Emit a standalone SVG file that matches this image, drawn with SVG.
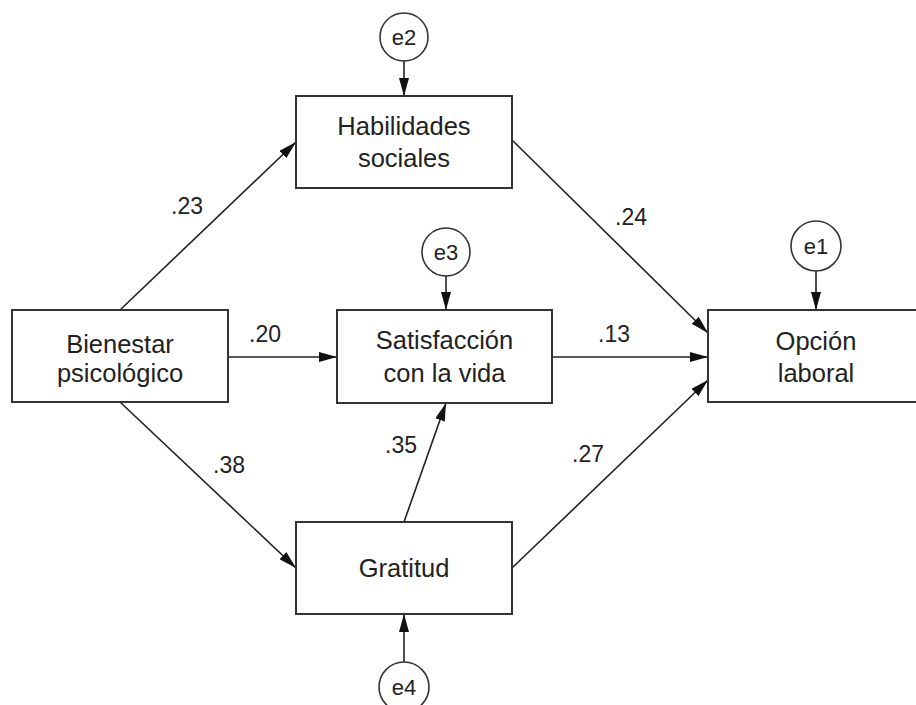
<svg xmlns="http://www.w3.org/2000/svg" width="916" height="705" viewBox="0 0 916 705">
<style>
.box{fill:#fff;stroke:#333;stroke-width:2}
.circ{fill:#fff;stroke:#333;stroke-width:1.6}
.t{font-family:"Liberation Sans",Arial,sans-serif;font-size:25.5px;fill:#222;text-anchor:middle}
.e{font-family:"Liberation Sans",Arial,sans-serif;font-size:22px;fill:#222;text-anchor:middle}
.lbl{font-family:"Liberation Sans",Arial,sans-serif;font-size:23px;fill:#222;text-anchor:middle}
.c{stroke:#222;stroke-width:1.6;fill:none;marker-end:url(#ah)}
</style>
<defs>
<marker id="ah" markerUnits="userSpaceOnUse" markerWidth="18" markerHeight="10" refX="18" refY="5" orient="auto">
<path d="M0,0 L18,5 L0,10 z" fill="#111"/>
</marker>
</defs>
<rect width="916" height="705" fill="#fff"/>
<g id="connectors">
<line class="c" x1="120" y1="310" x2="296" y2="142"/>
<line class="c" x1="228" y1="357" x2="337" y2="357"/>
<line class="c" x1="120" y1="402" x2="296" y2="568"/>
<line class="c" x1="512" y1="140" x2="708" y2="333"/>
<line class="c" x1="552" y1="357" x2="708" y2="357"/>
<line class="c" x1="512" y1="568" x2="708" y2="380"/>
<line class="c" x1="404" y1="522" x2="446" y2="403"/>
<line class="c" x1="404" y1="61" x2="404" y2="96"/>
<line class="c" x1="446" y1="276" x2="446" y2="310"/>
<line class="c" x1="816" y1="271" x2="816" y2="310"/>
<line class="c" x1="404" y1="662" x2="404" y2="614"/>
</g>
<g id="labels">
<text class="lbl" x="187" y="214">.23</text>
<text class="lbl" x="265" y="342">.20</text>
<text class="lbl" x="229" y="473">.38</text>
<text class="lbl" x="631" y="225">.24</text>
<text class="lbl" x="614" y="342">.13</text>
<text class="lbl" x="401" y="453">.35</text>
<text class="lbl" x="588" y="462">.27</text>
</g>
<g id="bienestar">
<rect class="box" x="12" y="310" width="216" height="92"/>
<text class="t" x="120" y="353">Bienestar</text>
<text class="t" x="120" y="382">psicológico</text>
</g>
<g id="habilidades">
<rect class="box" x="296" y="96" width="216" height="92"/>
<text class="t" x="404" y="135">Habilidades</text>
<text class="t" x="404" y="167">sociales</text>
</g>
<g id="satisfaccion">
<rect class="box" x="337" y="310" width="215" height="93"/>
<text class="t" x="444.5" y="349">Satisfacción</text>
<text class="t" x="444.5" y="382">con la vida</text>
</g>
<g id="gratitud">
<rect class="box" x="296" y="522" width="216" height="92"/>
<text class="t" x="404" y="577">Gratitud</text>
</g>
<g id="opcion">
<rect class="box" x="708" y="310" width="216" height="92"/>
<text class="t" x="816" y="350">Opción</text>
<text class="t" x="816" y="382">laboral</text>
</g>
<g id="e2">
<circle class="circ" cx="404" cy="37" r="24"/>
<text class="e" x="404" y="45">e2</text>
</g>
<g id="e3">
<circle class="circ" cx="446" cy="252" r="24"/>
<text class="e" x="446" y="260">e3</text>
</g>
<g id="e1">
<circle class="circ" cx="816" cy="246" r="25"/>
<text class="e" x="816" y="254">e1</text>
</g>
<g id="e4">
<circle class="circ" cx="404" cy="687" r="25"/>
<text class="e" x="404" y="695">e4</text>
</g>
</svg>
